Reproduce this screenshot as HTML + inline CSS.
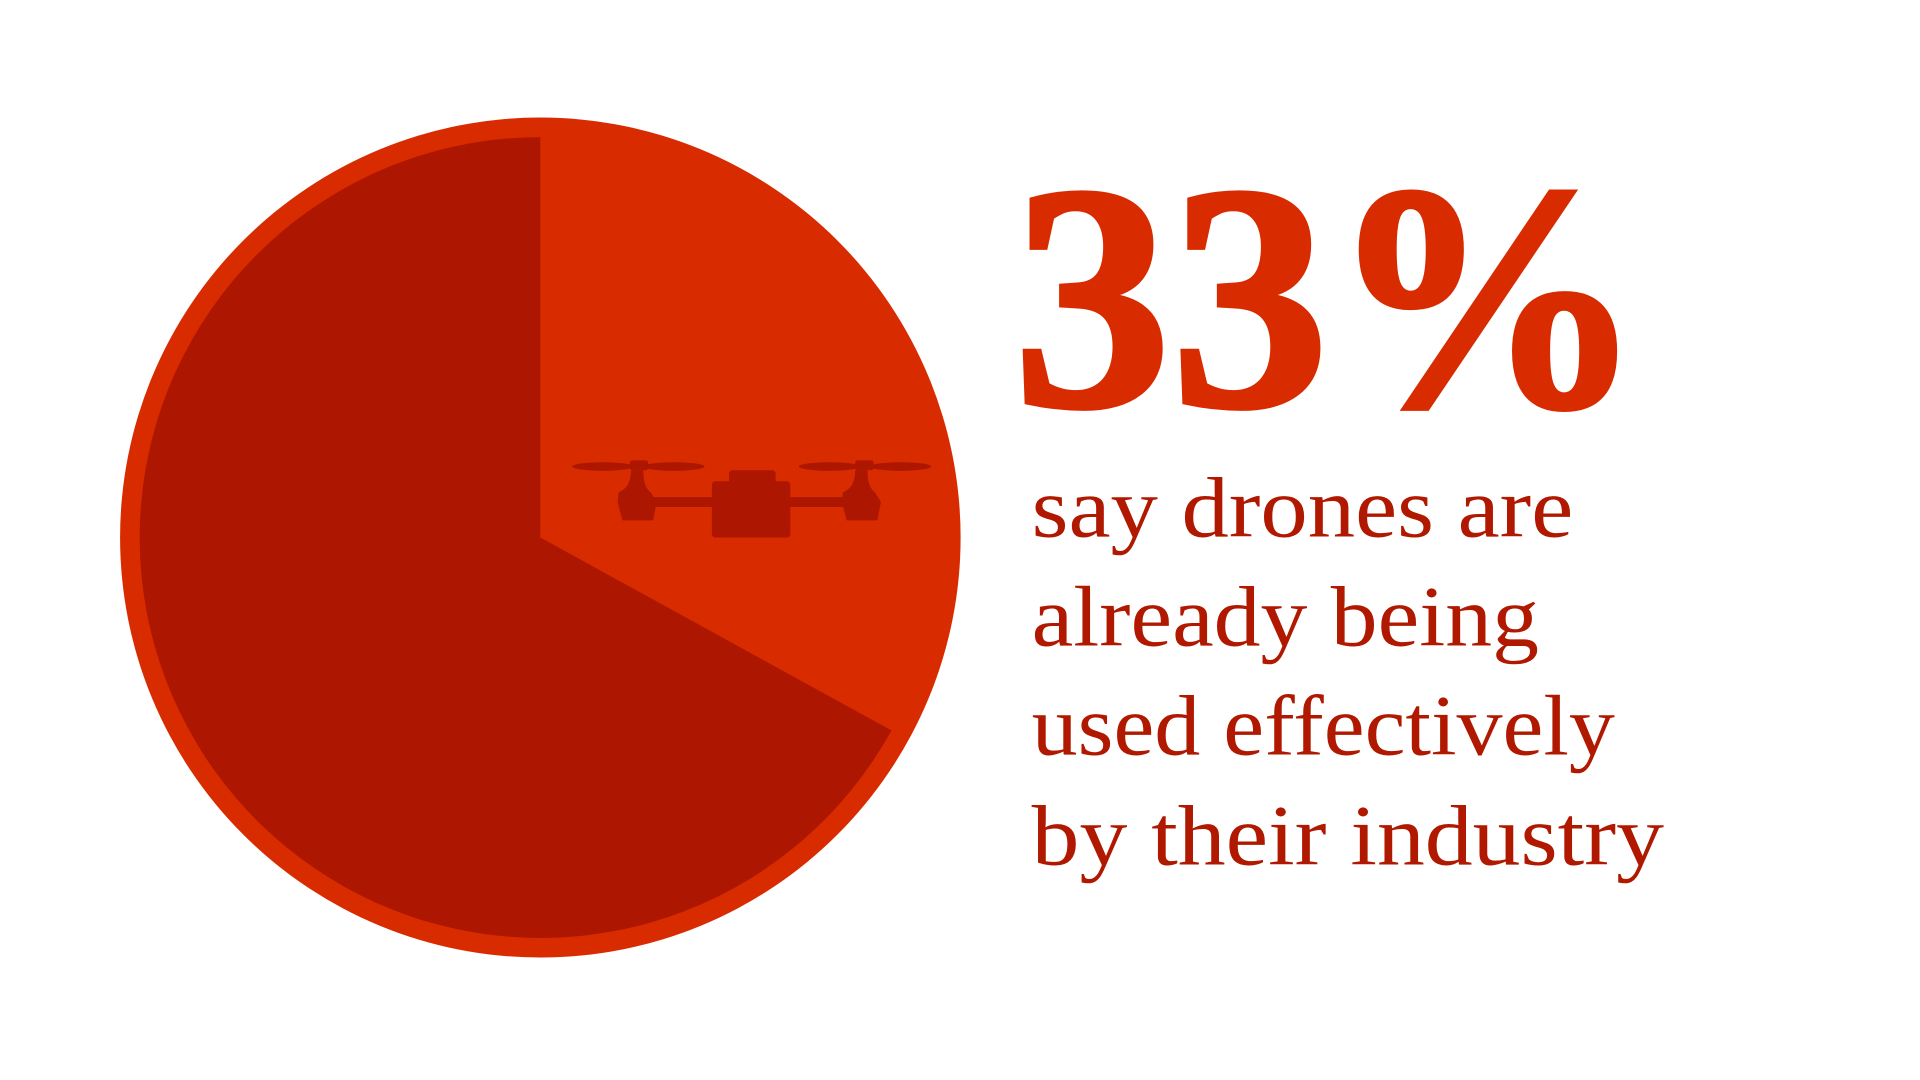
<!DOCTYPE html>
<html><head><meta charset="utf-8"><style>
html,body{margin:0;padding:0;background:#fff;width:1920px;height:1080px;overflow:hidden}
svg{display:block}
</style></head><body>
<svg id="chart" width="1920" height="1080" viewBox="0 0 1567 882" preserveAspectRatio="none" xmlns="http://www.w3.org/2000/svg">
<g id="pie"></g>
<g fill="#ad1600">
  <ellipse cx="492" cy="381" rx="25" ry="3.5"/><ellipse cx="550" cy="381" rx="25" ry="3.5"/>
  <ellipse cx="677" cy="381" rx="25" ry="3.5"/><ellipse cx="735" cy="381" rx="25" ry="3.5"/>
  <rect x="514" y="376" width="15" height="8" rx="2"/><rect x="698" y="376" width="15" height="8" rx="2"/>
  <path d="M515 384 Q515 398 505 402 L504 410 L508 425 L533 425 L536 410 L531 402 Q525 398 525 384Z"/>
  <path d="M698 384 Q698 398 688 402 L687 410 L691 425 L716 425 L719 410 L714 402 Q708 398 708 384Z"/>
  <rect x="532" y="406" width="160" height="8"/>
  <rect x="581" y="393" width="64" height="46" rx="3"/>
  <rect x="595" y="384" width="38" height="12" rx="3"/>
</g>
<text x="827" y="331" fill="#d92b00" font-family="Liberation Serif, serif" font-weight="bold" font-size="262" textLength="515" lengthAdjust="spacingAndGlyphs" stroke="#d92b00" stroke-width="4">33%</text>
<g fill="#b01800" font-family="Liberation Serif, serif" font-size="70">
  <text x="842" y="438" textLength="442" lengthAdjust="spacingAndGlyphs">say drones are</text>
  <text x="842" y="527" textLength="414" lengthAdjust="spacingAndGlyphs">already being</text>
  <text x="842" y="616" textLength="476" lengthAdjust="spacingAndGlyphs">used effectively</text>
  <text x="842" y="706" textLength="516" lengthAdjust="spacingAndGlyphs">by their industry</text>
</g>
</svg>
<script>
const categories = ["Used effectively", "Other"];
const values = [33, 67];
const colors = ["#d92b00", "#ad1600"];
const NS = "http://www.w3.org/2000/svg";
const g = document.getElementById("pie");
const cx = 441, cy = 439, rOuter = 343, rInner = 327;
const total = values.reduce((a, b) => a + b, 0);
const bg = document.createElementNS(NS, "circle");
bg.setAttribute("cx", cx); bg.setAttribute("cy", cy); bg.setAttribute("r", rOuter);
bg.setAttribute("fill", colors[0]);


g.appendChild(bg);
function pt(a, r) { return [cx + r * Math.sin(a), cy - r * Math.cos(a)]; }
const a0 = values[0] / total * 2 * Math.PI;
const a1 = 2 * Math.PI;
const p0 = pt(a0, rInner), p1 = pt(a1 - 0.0001, rInner);
const large = (a1 - a0) > Math.PI ? 1 : 0;
const path = document.createElementNS(NS, "path");
path.setAttribute("d", `M${cx} ${cy} L${p0[0]} ${p0[1]} A${rInner} ${rInner} 0 ${large} 1 ${p1[0]} ${p1[1]} Z`);
path.setAttribute("fill", colors[1]);


g.appendChild(path);
</script>
</body></html>
